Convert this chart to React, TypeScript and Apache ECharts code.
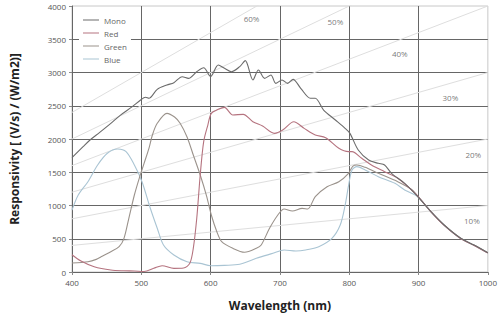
import React, { useEffect, useRef } from "react";
import * as echarts from "echarts";

const seriesNames = ["Mono", "Red", "Green", "Blue"];

const mono: [number, number][] = [
  [400, 1720], [416, 1885], [426, 1985], [440, 2100], [456, 2236], [470, 2360], [487, 2486], [499, 2586],
  [506, 2627], [511, 2612], [523, 2747], [537, 2812], [547, 2847], [559, 2937], [568, 2912], [580, 3012],
  [590, 3072], [600, 2940], [611, 3113], [620, 3063], [630, 3012], [642, 3088], [650, 3178], [661, 2887],
  [669, 3038], [678, 2912], [687, 2962], [694, 2837], [703, 2887], [711, 2837], [719, 2897], [730, 2762],
  [744, 2612], [751, 2612], [763, 2436], [780, 2286], [794, 2160], [801, 2085], [813, 1835], [828, 1684],
  [842, 1634], [851, 1609], [861, 1484], [880, 1333], [899, 1133], [918, 907], [937, 707], [961, 507],
  [980, 406], [1000, 290],
];

const red: [number, number][] = [
  [400, 260], [413, 165], [432, 80], [456, 30], [475, 18], [490, 15], [504, 8], [518, 55], [530, 95],
  [547, 55], [561, 60], [570, 130], [575, 356], [580, 808], [585, 1459], [590, 1960], [596, 2210],
  [601, 2386], [611, 2446], [620, 2476], [632, 2361], [647, 2371], [661, 2260], [675, 2195], [692, 2085],
  [704, 2135], [720, 2260], [735, 2160], [751, 2060], [766, 2020], [785, 1860], [799, 1810], [804, 1810],
  [818, 1710], [832, 1609], [851, 1508], [870, 1409], [890, 1233], [899, 1140], [918, 905], [937, 700],
  [961, 500], [980, 400], [1000, 285],
];

const green: [number, number][] = [
  [400, 135], [423, 155], [435, 190], [442, 230], [456, 305], [468, 380], [475, 506], [482, 808],
  [490, 1158], [497, 1409], [504, 1634], [511, 1860], [516, 2060], [523, 2236], [537, 2386], [548, 2330],
  [556, 2236], [566, 2030], [575, 1759], [585, 1459], [594, 1150], [601, 857], [609, 606], [616, 456],
  [632, 356], [649, 296], [666, 356], [673, 406], [685, 657], [697, 857], [706, 947], [718, 917],
  [732, 957], [740, 947], [751, 1133], [768, 1283], [785, 1358], [799, 1484], [805, 1590], [811, 1609],
  [823, 1574], [842, 1484], [870, 1358], [890, 1240], [899, 1135], [918, 905], [937, 705], [961, 505],
  [980, 405], [1000, 288],
];

const blue: [number, number][] = [
  [400, 930], [409, 1158], [423, 1358], [437, 1609], [451, 1785], [466, 1850], [478, 1810], [490, 1609],
  [501, 1358], [513, 958], [523, 657], [532, 406], [547, 256], [566, 155], [585, 130], [600, 95],
  [620, 100], [642, 116], [666, 206], [690, 281], [706, 331], [723, 316], [737, 331], [756, 381],
  [775, 506], [787, 707], [794, 1000], [799, 1300], [804, 1534], [811, 1584], [823, 1534], [842, 1434],
  [866, 1333], [880, 1233], [899, 1130], [918, 903], [937, 703], [961, 503], [980, 403], [1000, 287],
];

// Quantum-efficiency reference lines (R = QE * 10 * wavelength)
const qeLevels = [0.1, 0.2, 0.3, 0.4, 0.5, 0.6];
const qeLabels = ["10%", "20%", "30%", "40%", "50%", "60%"];
const qeLabelAt: [number, number][] = [
  [977, 782], [979, 1774], [946, 2632], [873, 3293], [780, 3774], [659, 3820],
];

const xTicks = [400, 500, 600, 700, 800, 900, 1000];

const colors = ["#6b6b6b", "#b5737f", "#9a928b", "#a9c4d3"];

export default function App() {
  const ref = useRef<HTMLDivElement>(null);
  useEffect(() => {
    if (!ref.current) return;
    const chart = echarts.init(ref.current, undefined, { renderer: "svg" });
    const dataSets = [mono, red, green, blue];
    const qeSeries = qeLevels.map((q, i) => ({
      type: "line",
      name: qeLabels[i],
      data: [
        [xTicks[0], q * 10 * xTicks[0]],
        [xTicks[xTicks.length - 1], q * 10 * xTicks[xTicks.length - 1]],
      ],
      symbol: "none",
      clip: true,
      silent: true,
      lineStyle: { color: "#dedede", width: 1 },
      z: 1,
    }));
    const tickFmt = (v: number) => String(v);
    chart.setOption({
      animation: false,
      grid: { left: 69, right: 11, top: 6, bottom: 52, show: true, borderColor: "#c8c8c8", borderWidth: 1 },
      legend: {
        data: seriesNames,
        orient: "vertical",
        left: 79,
        top: 13,
        icon: "rect",
        itemWidth: 16,
        itemHeight: 1,
        itemGap: 3,
        backgroundColor: "#ffffff",
        padding: [2, 4, 2, 4],
        textStyle: { fontSize: 8, color: "#666", lineHeight: 10, fontFamily: "Open Sans, sans-serif" },
      },
      xAxis: {
        type: "value",
        min: 400,
        max: 1000,
        interval: 100,
        name: "Wavelength (nm)",
        nameLocation: "middle",
        nameGap: 27,
        nameTextStyle: { fontSize: 12, fontWeight: "bold", color: "#222", fontFamily: "Open Sans, sans-serif" },
        axisLine: { show: true, lineStyle: { color: "#666" } },
        axisTick: { show: true, length: 3, lineStyle: { color: "#888" } },
        axisLabel: { fontSize: 8, color: "#555", margin: 6, formatter: tickFmt, fontFamily: "Open Sans, sans-serif" },
        splitLine: { show: true, showMaxLine: false, lineStyle: { color: "#666", width: 1 } },
      },
      yAxis: {
        type: "value",
        min: 0,
        max: 4000,
        interval: 500,
        name: "Responsivity [ (V/s) / (W/m2)]",
        nameLocation: "middle",
        nameGap: 52,
        nameTextStyle: { fontSize: 12, fontWeight: "bold", color: "#222", fontFamily: "Open Sans, sans-serif" },
        axisLine: { show: true, lineStyle: { color: "#666" } },
        axisTick: { show: true, length: 3, lineStyle: { color: "#888" } },
        axisLabel: { fontSize: 8, color: "#555", margin: 6, formatter: tickFmt, fontFamily: "Open Sans, sans-serif" },
        splitLine: { show: true, showMaxLine: false, lineStyle: { color: "#666", width: 1 } },
      },
      series: [
        ...qeSeries,
        {
          type: "scatter",
          name: "qe-labels",
          data: qeLabelAt.map((p, i) => ({ value: p, name: qeLabels[i] })),
          symbolSize: 1,
          silent: true,
          itemStyle: { color: "rgba(0,0,0,0)" },
          label: {
            show: true,
            position: "top",
            distance: -5,
            formatter: (p: any) => p.name,
            fontSize: 8,
            color: "#555555",
            fontFamily: "Open Sans, sans-serif",
          },
          z: 3,
        },
        ...dataSets.map((d, i) => ({
          type: "line",
          name: seriesNames[i],
          data: d,
          smooth: 0.3,
          symbol: "none",
          color: colors[i],
          lineStyle: { color: colors[i], width: 1.1 },
          z: 5 - i + 2,
        })),
      ],
    });
    return () => chart.dispose();
  }, []);
  return <div ref={ref} style={{ width: 500, height: 324, position: "absolute", left: 0, top: 0 }} />;
}
